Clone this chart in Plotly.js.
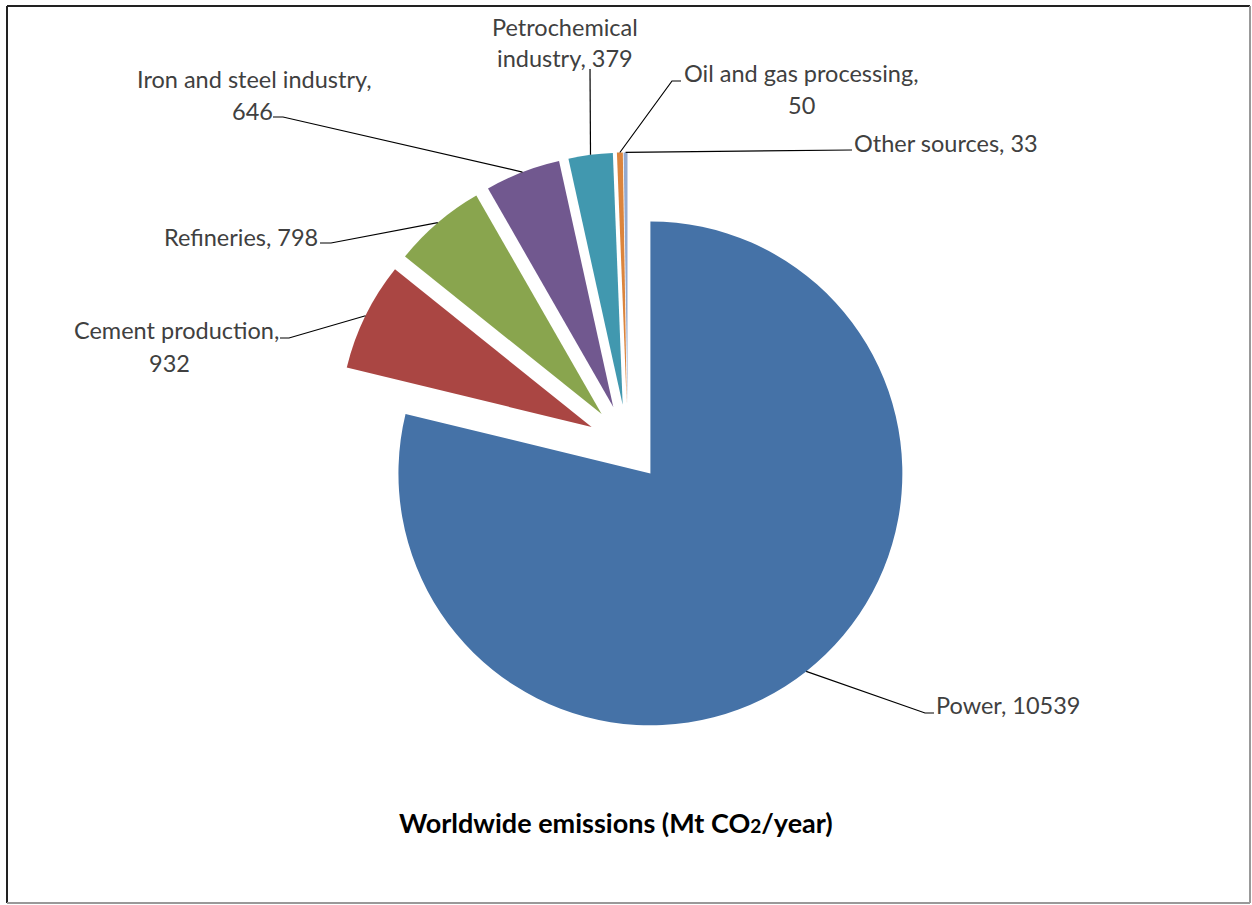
<!DOCTYPE html>
<html>
<head>
<meta charset="utf-8">
<script src="https://cdn.plot.ly/plotly-3.0.1.min.js"></script>
<style>html,body{margin:0;padding:0;background:#fff;}#chart{width:1252px;height:905px;}</style>
</head>
<body>
<div id="chart"></div>
<script>
// ---- data ----
const categories = ["Power", "Cement production", "Refineries", "Iron and steel industry", "Petrochemical industry", "Oil and gas processing", "Other sources"];
const emissions = [10539, 932, 798, 646, 379, 50, 33];
const chartTitle = "Worldwide emissions (Mt CO<span style=\"font-size:19px\">2</span>/year)";

// ---- styles / layout ----
const sliceColors = ["#4572A7", "#AA4643", "#89A54E", "#71588F", "#4198AF", "#DB843D", "#93A9CF"];
const pulls = [0.145, 0.16, 0.16, 0.16, 0.16, 0.16, 0.16];
const W = 1252, H = 905;
const pieDomain = {x: [0.2680, 0.7349], y: [0.1857, 0.8316]};
// label layout in pixels: wrap = number of words on first line (0 = no wrap),
// lines = centres of text lines, lead = leader line points from label side
const labelLayout = [
  {wrap: 0, lines: [[1008, 705]], lead: [[934, 713], [925, 713]]},
  {wrap: 2, lines: [[176, 330], [170, 363]], lead: [[280, 338], [289, 338]]},
  {wrap: 0, lines: [[241, 237]], lead: [[320, 243], [331, 243]]},
  {wrap: 4, lines: [[254, 79], [253, 111]], lead: [[273, 117], [283, 117]]},
  {wrap: 1, lines: [[565, 27], [565, 58]], lead: [[590, 69]]},
  {wrap: 4, lines: [[801, 73], [801, 105]], lead: [[681, 81], [672, 81]]},
  {wrap: 0, lines: [[946, 143]], lead: [[852, 150]]}
];
const labelFont = {family: "Lato, 'Open Sans', sans-serif", size: 23.5, color: "#404040"};
const titleFont = {family: "Lato, 'Open Sans', sans-serif", size: 27, color: "#000000"};

const px = (x) => x / W;
const py = (y) => 1 - y / H;

// pie geometry (same rule plotly uses)
const total = emissions.reduce((a, b) => a + b, 0);
const mids = [];
let cum = 0;
emissions.forEach(v => { mids.push((cum + v / 2) / total * 2 * Math.PI); cum += v; });
const cx = W * (pieDomain.x[0] + pieDomain.x[1]) / 2;
const boxH = H * (pieDomain.y[1] - pieDomain.y[0]);
const cy = H * (1 - pieDomain.y[0]) - boxH / 2;
const r = Math.min(W * (pieDomain.x[1] - pieDomain.x[0]), boxH) / 2 / (1 + Math.max(...pulls));

const annotations = [];
const shapes = [];
categories.forEach((cat, i) => {
  const full = cat + ", " + emissions[i];
  const words = full.split(" ");
  const L = labelLayout[i];
  const texts = L.wrap ? [words.slice(0, L.wrap).join(" "), words.slice(L.wrap).join(" ")] : [full];
  texts.forEach((t, k) => {
    annotations.push({
      xref: "paper", yref: "paper", x: px(L.lines[k][0]), y: py(L.lines[k][1]),
      text: t, showarrow: false, xanchor: "center", yanchor: "middle",
      font: labelFont
    });
  });
  const tip = [cx + (1 + pulls[i]) * r * Math.sin(mids[i]), cy - (1 + pulls[i]) * r * Math.cos(mids[i])];
  const pts = L.lead.concat([tip]);
  const path = pts.map((p, k) => (k ? "L" : "M") + px(p[0]).toFixed(5) + "," + py(p[1]).toFixed(5)).join(" ");
  shapes.push({type: "path", xref: "paper", yref: "paper", path: path, line: {color: "#000000", width: 1.2}});
});

annotations.push({
  xref: "paper", yref: "paper", x: px(616), y: py(822), text: "<b>" + chartTitle + "</b>",
  showarrow: false, xanchor: "center", yanchor: "middle",
  font: titleFont
});

// frame
shapes.push({type: "line", xref: "paper", yref: "paper", x0: px(7), y0: py(6), x1: px(1250), y1: py(6), line: {color: "#222", width: 2}});
shapes.push({type: "line", xref: "paper", yref: "paper", x0: px(7), y0: py(6), x1: px(7), y1: py(903), line: {color: "#222", width: 2}});
shapes.push({type: "line", xref: "paper", yref: "paper", x0: px(1250), y0: py(6), x1: px(1250), y1: py(903), line: {color: "#999", width: 2}});
shapes.push({type: "line", xref: "paper", yref: "paper", x0: px(7), y0: py(903), x1: px(1250), y1: py(903), line: {color: "#999", width: 2}});

const trace = {
  type: "pie",
  labels: categories,
  values: emissions,
  sort: false,
  direction: "clockwise",
  rotation: 0,
  pull: pulls,
  textinfo: "none",
  hoverinfo: "label+value",
  marker: {colors: sliceColors, line: {width: 0}},
  domain: pieDomain,
  showlegend: false
};

const layout = {
  width: W, height: H,
  margin: {l: 0, r: 0, t: 0, b: 0},
  paper_bgcolor: "#ffffff",
  showlegend: false,
  annotations: annotations,
  shapes: shapes
};

Plotly.newPlot("chart", [trace], layout, {staticPlot: true});
</script>
</body>
</html>
